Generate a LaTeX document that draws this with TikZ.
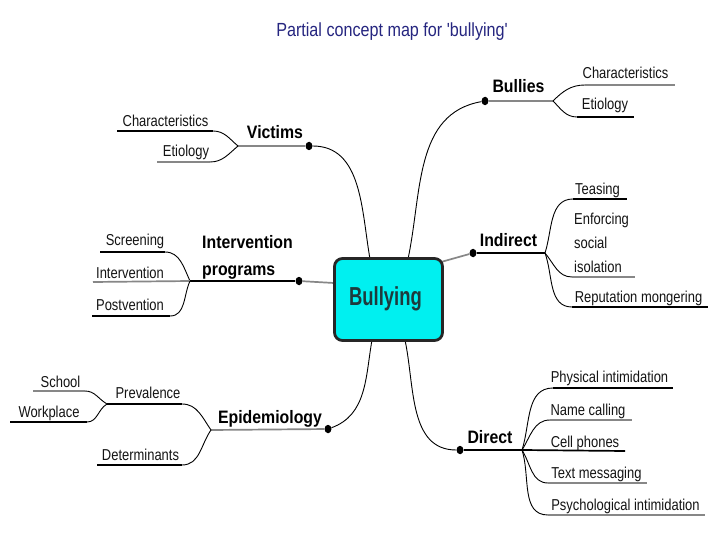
\documentclass[tikz,border=0pt]{standalone}
\usepackage{fontspec}
\setmainfont{Liberation Sans}
\newfontfamily\smallf[FakeStretch=0.82]{Liberation Sans}
\newfontfamily\headf[FakeStretch=0.88]{Liberation Sans}
\newfontfamily\titlef[FakeStretch=0.85]{Liberation Sans}
\newfontfamily\centf[FakeStretch=0.71]{Liberation Sans}
\definecolor{titleblue}{RGB}{38,38,128}
\definecolor{boxcyan}{RGB}{0,240,240}
\definecolor{boxtext}{RGB}{30,58,60}
\definecolor{lgray}{RGB}{135,135,135}
\tikzset{
  lab/.style={font=\smallf\fontsize{15.8}{18}\selectfont, anchor=base, inner sep=0pt, text=black!92},
  labw/.style={lab, anchor=base west},
  head/.style={font=\headf\bfseries\fontsize{18}{20}\selectfont, anchor=base, inner sep=0pt},
  headw/.style={head, anchor=base west},
  ulk/.style={line width=1.7pt, black},
  ulg/.style={line width=1.7pt, lgray},
  crv/.style={line width=0.9pt, black},
  mdot/.style={ellipse, fill=black, inner sep=0pt, minimum width=7pt, minimum height=8.5pt},
}
\usetikzlibrary{shapes.geometric}
\begin{document}
\begin{tikzpicture}[x=1pt,y=-1pt]
\path[use as bounding box, fill=white] (0,0) rectangle (720,540);

% title
\node[font=\titlef\fontsize{19}{22}\selectfont, text=titleblue, anchor=base, inner sep=0pt] (title) at (392,37) {Partial concept map for 'bullying'};

% attach points on the central box
\coordinate (ta) at (370,259);
\coordinate (tb) at (408,259);
\coordinate (ra) at (441,262);
\coordinate (la) at (334,283);
\coordinate (ba) at (372,340);
\coordinate (bb) at (405,340);

% ---------- Victims ----------
\node[mdot] (vd) at (309,146) {};
\coordinate (v0) at (238,146);
\coordinate (vc1a) at (117,131); \coordinate (vc1b) at (213,131);
\coordinate (ve1a) at (157,162); \coordinate (ve1b) at (210,162);
\draw[crv] (vd) to[out=0,in=100] (ta);
\draw[ulg] (v0) -- (vd);
\draw[ulk] (vc1a) -- (vc1b);
\draw[ulg] (ve1a) -- (ve1b);
\draw[crv] (vc1b) to[out=0,in=140] (v0);
\draw[crv] (ve1b) to[out=0,in=-140] (v0);
\node[head] (victims) at (275,139) {Victims};
\node[lab] (vchar) at (165.5,127) {Characteristics};
\node[lab] (vetio) at (186,157) {Etiology};

% ---------- Intervention programs ----------
\node[mdot] (ipd) at (299,281) {};
\coordinate (i0) at (190,281);
\coordinate (isa) at (100,252); \coordinate (isb) at (165,252);
\coordinate (iia) at (93,282);
\coordinate (ipa) at (92,316); \coordinate (ipb) at (170,316);
\draw[ulg] (ipd) -- (la);
\draw[ulk] (i0) -- (ipd);
\draw[line width=1.1pt] (isa) -- (isb);
\draw[crv] (isb) to[out=0,in=115] (i0);
\draw[ulg] (iia) -- (i0);
\draw[ulk] (ipa) -- (ipb);
\draw[crv] (ipb) to[out=0,in=-115] (i0);
\node[headw] (ipr1) at (202,248) {Intervention};
\node[headw] (ipr2) at (202,275) {programs};
\node[lab] (iscr) at (135,245) {Screening};
\node[lab] (iint) at (130,278) {Intervention};
\node[lab] (ipost) at (130,310) {Postvention};

% ---------- Epidemiology ----------
\node[mdot] (epd) at (328,429) {};
\coordinate (e0) at (211,430);
\coordinate (epa) at (107,404); \coordinate (epb) at (182,404);
\coordinate (eda) at (97,465); \coordinate (edb) at (182,465);
\coordinate (esa) at (33,391); \coordinate (esb) at (85,391);
\coordinate (ewa) at (10,422); \coordinate (ewb) at (87,422);
\draw[crv] (epd) to[out=20,in=-100] (ba);
\draw[ulg] (e0) -- (epd);
\draw[ulk] (epa) -- (epb);
\draw[crv] (epb) to[out=0,in=125] (e0);
\draw[line width=1.1pt] (eda) -- (edb);
\draw[crv] (edb) to[out=0,in=-125] (e0);
\draw[ulg] (esa) -- (esb);
\draw[crv] (esb) to[out=0,in=150] (epa);
\draw[line width=1.1pt] (ewa) -- (ewb);
\draw[crv] (ewb) to[out=0,in=-150] (epa);
\node[head] (epid) at (270,423) {Epidemiology};
\node[lab] (eprev) at (148,398) {Prevalence};
\node[lab] (edet) at (140.5,460) {Determinants};
\node[lab] (eschool) at (60.5,387) {School};
\node[lab] (ework) at (49,417) {Workplace};

% ---------- Bullies ----------
\node[mdot] (bd) at (485,101) {};
\coordinate (b0) at (553,101);
\coordinate (bca) at (585,85); \coordinate (bcb) at (675,85);
\coordinate (bea) at (577,117); \coordinate (beb) at (634,117);
\draw[crv] (tb) to[out=78,in=190] (bd);
\draw[ulg] (bd) -- (b0);
\draw[crv] (b0) to[out=45,in=180] (bca);
\draw[crv] (b0) to[out=-45,in=180] (bea);
\draw[ulg] (bca) -- (bcb);
\draw[line width=1.1pt] (bea) -- (beb);
\node[head] (bullies) at (518.5,93) {Bullies};
\node[lab] (bchar) at (625.5,79) {Characteristics};
\node[lab] (betio) at (605,110) {Etiology};

% ---------- Indirect ----------
\node[mdot] (ind) at (473,253) {};
\coordinate (n0) at (545,253);
\coordinate (nta) at (573,199); \coordinate (ntb) at (627,199);
\coordinate (nea) at (572,277); \coordinate (neb) at (635,277);
\coordinate (nra) at (572,307); \coordinate (nrb) at (708,307);
\draw[ulg] (ra) -- (ind);
\draw[ulk] (ind) -- (n0);
\draw[crv] (n0) to[out=72,in=180] (nta);
\draw[crv] (n0) to[out=-50,in=180] (nea);
\draw[crv] (n0) to[out=-70,in=180] (nra);
\draw[ulk] (nta) -- (ntb);
\draw[ulg] (nea) -- (neb);
\draw[ulk] (nra) -- (nrb);
\node[head] (indirect) at (508.5,247) {Indirect};
\node[lab] (tease) at (597.5,195) {Teasing};
\node[labw] (enf1) at (574,225) {Enforcing};
\node[labw] (enf2) at (574,248) {social};
\node[labw] (enf3) at (574,272) {isolation};
\node[lab] (repm) at (638.5,302) {Reputation mongering};

% ---------- Direct ----------
\node[mdot] (dd) at (460,450) {};
\coordinate (d0) at (522,450);
\coordinate (dpa) at (553,388); \coordinate (dpb) at (673,388);
\coordinate (dna) at (550,420); \coordinate (dnb) at (632,420);
\coordinate (dcb) at (625,451);
\coordinate (dta) at (548,483); \coordinate (dtb) at (647,483);
\coordinate (dsa) at (548,515); \coordinate (dsb) at (705,515);
\draw[crv] (bb) to[out=-78,in=180] (dd);
\draw[ulk] (dd) -- (d0);
\draw[ulk] (d0) -- (dcb);
\draw[crv] (d0) to[out=72,in=180] (dpa);
\draw[crv] (d0) to[out=58,in=180] (dna);
\draw[crv] (d0) to[out=-58,in=180] (dta);
\draw[crv] (d0) to[out=-72,in=180] (dsa);
\draw[ulk] (dpa) -- (dpb);
\draw[ulg] (dna) -- (dnb);
\draw[ulg] (dta) -- (dtb);
\draw[ulg] (dsa) -- (dsb);
\node[head] (direct) at (490,443) {Direct};
\node[lab] (phys) at (609.5,382) {Physical intimidation};
\node[lab] (namec) at (588,415) {Name calling};
\node[lab] (cellp) at (585,447) {Cell phones};
\node[lab] (textm) at (596.5,478) {Text messaging};
\node[lab] (psych) at (625.5,510) {Psychological intimidation};

% ---------- central box ----------
\node[draw=black!85, line width=2.8pt, fill=boxcyan, rounded corners=8pt,
      minimum width=108pt, minimum height=82pt, inner sep=0pt] (bul) at (388.5,299.5) {};
\node[font=\centf\bfseries\fontsize{26}{28}\selectfont, text=boxtext, anchor=base, inner sep=0pt] (bultxt) at (385.5,305) {Bullying};
\end{tikzpicture}
\end{document}
